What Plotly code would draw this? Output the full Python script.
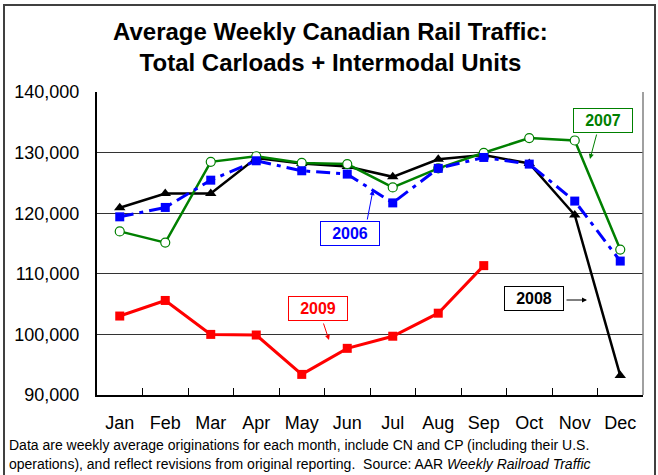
import plotly.graph_objects as go

months = ["Jan", "Feb", "Mar", "Apr", "May", "Jun", "Jul", "Aug", "Sep", "Oct", "Nov", "Dec"]
y2006 = [119400, 120950, 125450, 128650, 127000, 126450, 121700, 127400, 129200, 128100, 122000, 112100]
y2007 = [117000, 115150, 128480, 129400, 128300, 128100, 124250, 127400, 129970, 132400, 132000, 114000]
y2008 = [120900, 123250, 123250, 129100, 128200, 127700, 126000, 128900, 129600, 128200, 119700, 93200]
y2009 = [103030, 105600, 100000, 99900, 93400, 97700, 99700, 103500, 111350]
yticks = [90000, 100000, 110000, 120000, 130000, 140000]

W, H = 658, 475
L, R, T, B = 97, 15, 92, 80
PW, PH = W - L - R, H - T - B


def px(x):
    return (x - L) / PW


def py(y):
    return (H - B - y) / PH


FONT = "Liberation Sans, Arial, sans-serif"

fig = go.Figure()
fig.add_trace(go.Scatter(x=months, y=y2008, mode="lines+markers", name="2008",
                         line=dict(color="black", width=2.5),
                         marker=dict(symbol="triangle-up", size=10, color="black")))
fig.add_trace(go.Scatter(x=months, y=y2007, mode="lines+markers", name="2007",
                         line=dict(color="#008000", width=2.5),
                         marker=dict(symbol="circle", size=9, color="white",
                                     line=dict(color="#008000", width=1.2))))
fig.add_trace(go.Scatter(x=months, y=y2006, mode="lines+markers", name="2006",
                         line=dict(color="#0000FF", width=3, dash="14px,6px,4px,6px"),
                         marker=dict(symbol="square", size=9, color="#0000FF")))
fig.add_trace(go.Scatter(x=months[:len(y2009)], y=y2009, mode="lines+markers", name="2009",
                         line=dict(color="#FF0000", width=3),
                         marker=dict(symbol="square", size=9, color="#FF0000")))

annotations = []
# title
annotations.append(dict(xref="paper", yref="paper", x=px(330), y=py(47.5), showarrow=False,
                        text="<b>Average Weekly Canadian Rail Traffic:<br>Total Carloads + Intermodal Units</b>",
                        font=dict(family=FONT, size=24, color="black"), align="center",
                        xanchor="center", yanchor="middle"))
# footer
annotations.append(dict(xref="paper", yref="paper", x=px(7), y=py(445), showarrow=False,
                        text="Data are weekly average originations for each month, include CN and CP (including their U.S.",
                        font=dict(family=FONT, size=14, color="black"), xanchor="left", yanchor="middle"))
annotations.append(dict(xref="paper", yref="paper", x=px(7), y=py(464), showarrow=False,
                        text="operations), and reflect revisions from original reporting.  Source: AAR <i>Weekly Railroad Traffic</i>",
                        font=dict(family=FONT, size=14, color="black"), xanchor="left", yanchor="middle"))

# label boxes
boxes = [("2006", "#0000FF", 350, 233.5),
         ("2007", "#008000", 602.5, 120),
         ("2009", "#FF0000", 318, 308.5),
         ("2008", "black", 534, 298.5)]
for txt, col, cx, cy in boxes:
    annotations.append(dict(xref="paper", yref="paper", x=px(cx), y=py(cy), showarrow=False,
                            text="<b>" + txt + "</b>", font=dict(family=FONT, size=16, color=col),
                            bordercolor=col, borderwidth=1, bgcolor="white", width=56, height=21,
                            borderpad=1, xanchor="center", yanchor="middle"))

arrows = [("#0000FF", 367, 221, 373, 190),
          ("#008000", 597, 133, 590, 159),
          ("#FF0000", 323, 322, 329, 340),
          ("black", 565, 300, 587, 300)]
for col, tx, ty, hx, hy in arrows:
    annotations.append(dict(xref="paper", yref="paper", x=px(hx), y=py(hy), ax=tx - hx, ay=ty - hy,
                            text="", showarrow=True, arrowhead=2, arrowsize=1, arrowwidth=1,
                            arrowcolor=col))

shapes = [
    dict(type="rect", xref="paper", yref="paper", x0=px(4), x1=px(655), y0=py(490), y1=py(5),
         line=dict(color="#404040", width=2), layer="below"),
    dict(type="line", xref="paper", yref="paper", x0=1, x1=1, y0=0, y1=1,
         line=dict(color="#808080", width=1.5)),
]

fig.update_layout(
    width=W, height=H, margin=dict(l=L, r=R, t=T, b=B),
    paper_bgcolor="white", plot_bgcolor="white", showlegend=False,
    font=dict(family=FONT, size=18, color="black"),
    annotations=annotations, shapes=shapes,
    xaxis=dict(type="category", categoryorder="array", categoryarray=months,
               showline=True, linecolor="black", linewidth=2, ticks="inside",
               tickson="boundaries", ticklen=7, tickcolor="black", showgrid=False,
               ticklabelstandoff=10, tickfont=dict(size=18), range=[-0.5, 11.5]),
    yaxis=dict(range=[90000, 140000], tickvals=yticks, tickformat=",", showline=True,
               linecolor="black", linewidth=2, showgrid=True, gridcolor="#333333", gridwidth=1,
               ticks="", ticklabelstandoff=12, tickfont=dict(size=18), zeroline=False),
)

fig.write_html("out.html", config={"displayModeBar": False},
               post_script="document.body.style.margin='0px';")
